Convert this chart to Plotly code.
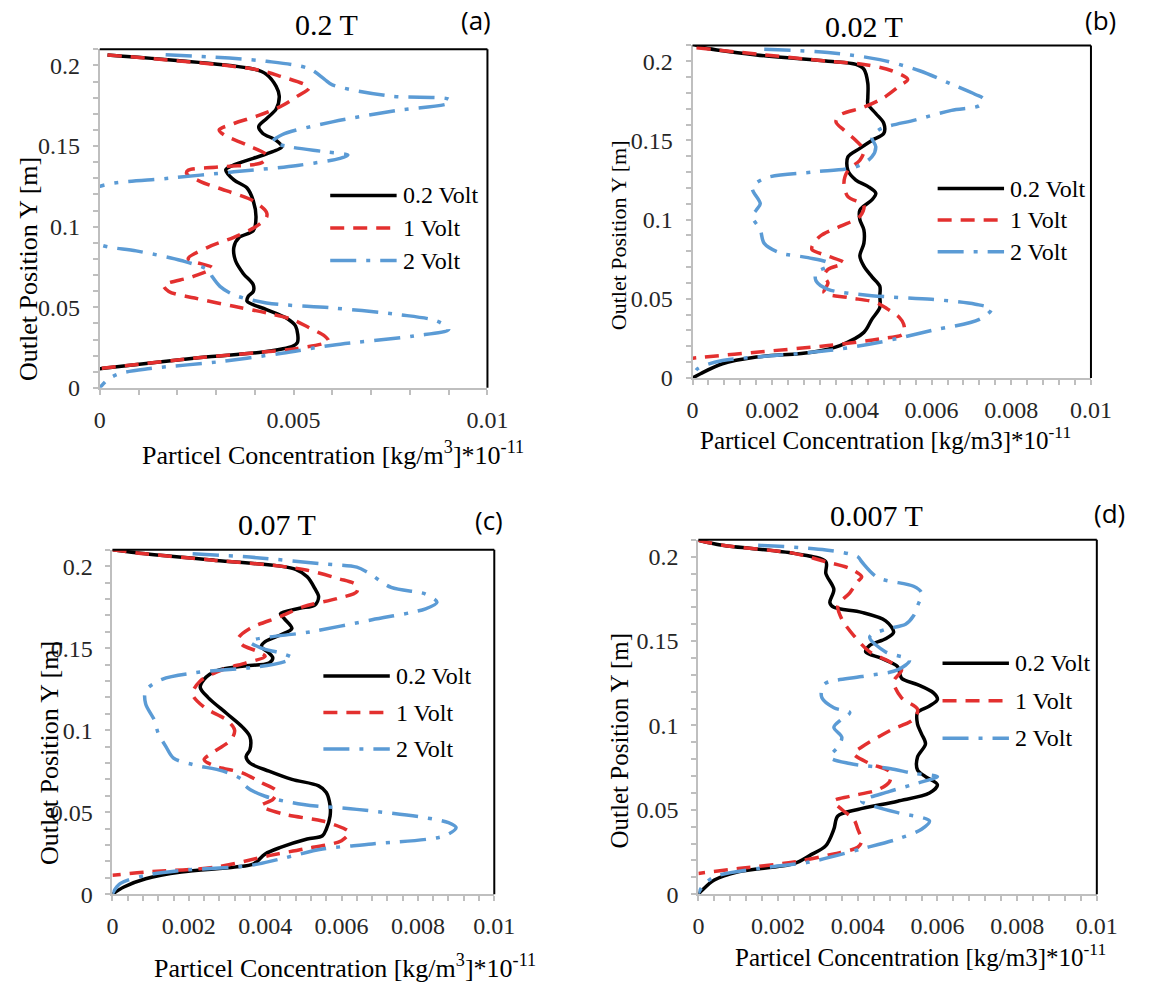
import plotly.graph_objects as go

# ---------------- data: particle concentration vs outlet position ----------------
# Panel (a) 0.2 T
a_v02_conc = [0.0002, 0.0040, 0.0043, 0.00455, 0.00463, 0.00455, 0.0043, 0.0041, 0.0042, 0.00455, 0.0047, 0.00446,
              0.00396, 0.00346, 0.00325, 0.00346, 0.0038, 0.00396, 0.00403, 0.00396, 0.0036, 0.00346, 0.0035, 0.0037,
              0.00396, 0.00396, 0.00383, 0.0038, 0.0043, 0.0048, 0.00505, 0.0051, 0.00497, 0.0042, 0.0026, 0.0001, 0.0]
a_v02_pos = [0.2065, 0.1976, 0.1945, 0.1870, 0.1810, 0.1730, 0.1670, 0.1620, 0.1580, 0.1536, 0.1496, 0.1465,
             0.1424, 0.1383, 0.1353, 0.1290, 0.1240, 0.1160, 0.1057, 0.0975, 0.0934, 0.0873, 0.0790, 0.0710,
             0.0639, 0.0598, 0.0567, 0.0537, 0.0486, 0.0435, 0.0384, 0.0282, 0.0257, 0.0222, 0.0188, 0.0122, 0.0118]
a_v1_conc = [0.0002, 0.0040, 0.0047, 0.0053, 0.0054, 0.0051, 0.0047, 0.0041, 0.00346, 0.00308, 0.0032, 0.0038,
             0.0043, 0.0042, 0.00304, 0.00228, 0.00224, 0.0026, 0.0033, 0.00396, 0.0043, 0.0043, 0.0040, 0.00346,
             0.0028, 0.00228, 0.0029, 0.0024, 0.00165, 0.00178, 0.00245, 0.00346, 0.0043, 0.00497, 0.0054, 0.0058,
             0.0059, 0.0051, 0.0041, 0.0026, 0.0]
a_v1_pos = [0.2065, 0.1976, 0.1930, 0.1880, 0.1860, 0.1810, 0.1750, 0.1690, 0.1640, 0.1600, 0.1570, 0.1506,
            0.1444, 0.1400, 0.1370, 0.1350, 0.1330, 0.1280, 0.1220, 0.1160, 0.1090, 0.1057, 0.0996, 0.0934,
            0.0873, 0.0800, 0.0745, 0.0690, 0.0635, 0.0598, 0.0557, 0.0506, 0.0465, 0.0424, 0.0373, 0.0322,
            0.0290, 0.0245, 0.0220, 0.0188, 0.0120]
a_v2_conc = [0.0017, 0.0043, 0.0054, 0.0058, 0.0060, 0.0075, 0.0090, 0.00903, 0.00765, 0.0060, 0.0047, 0.00446,
             0.00488, 0.0058, 0.0064, 0.0062, 0.0051, 0.00346, 0.00178, 0.0, -0.0004, -0.0006, -0.0004, 0.0,
             0.00094, 0.0021, 0.0028, 0.0029, 0.0031, 0.00346, 0.0043, 0.0060, 0.0077, 0.0087, 0.0090, 0.0081,
             0.0060, 0.0047, 0.0030, 0.0013, 0.0005, 0.0002, 0.0]
a_v2_pos = [0.2067, 0.2026, 0.1980, 0.1914, 0.1880, 0.1810, 0.1790, 0.1770, 0.1720, 0.1650, 0.1570, 0.1526,
            0.1496, 0.1465, 0.1444, 0.1424, 0.1380, 0.1340, 0.1300, 0.1250, 0.1180, 0.1080, 0.0980, 0.0890,
            0.0850, 0.0790, 0.0730, 0.0690, 0.0630, 0.0577, 0.0527, 0.0496, 0.0455, 0.0414, 0.0363, 0.0322,
            0.0265, 0.0215, 0.0160, 0.0120, 0.0088, 0.0050, 0.0]

# Panel (b) 0.02 T
b_v02_conc = [0.0, 0.0003, 0.0016, 0.0034, 0.0041, 0.0043, 0.0044, 0.0044, 0.0044, 0.0046, 0.0048, 0.0048, 0.0045,
              0.0042, 0.0039, 0.0039, 0.0041, 0.0044, 0.0046, 0.0045, 0.0042, 0.0042, 0.0043, 0.0043, 0.0042,
              0.0043, 0.0045, 0.0047, 0.0047, 0.0047, 0.0045, 0.0043, 0.0037, 0.0030, 0.0016, 0.00075, 0.0002, 0.0]
b_v02_pos = [0.2110, 0.2085, 0.2040, 0.2000, 0.1980, 0.1950, 0.1860, 0.1770, 0.1730, 0.1670, 0.1608, 0.1545, 0.1500,
             0.1450, 0.1396, 0.1310, 0.1250, 0.1210, 0.1166, 0.1124, 0.1060, 0.1000, 0.0936, 0.0850, 0.0770,
             0.0706, 0.0640, 0.0580, 0.0518, 0.0445, 0.0370, 0.0288, 0.0205, 0.0163, 0.0132, 0.0090, 0.0027, 0.0]
b_v1_conc = [0.0001, 0.0034, 0.0043, 0.0050, 0.0054, 0.0052, 0.0048, 0.0043, 0.0037, 0.0036, 0.0038, 0.0041, 0.0043,
             0.0042, 0.0039, 0.0038, 0.0039, 0.0043, 0.0042, 0.0037, 0.0032, 0.0030, 0.0030, 0.0034, 0.0038, 0.0034,
             0.0033, 0.0034, 0.0033, 0.0039, 0.0046, 0.0049, 0.0052, 0.0053, 0.0053, 0.0047, 0.0034, 0.0016,
             0.0002, 0.0]
b_v1_pos = [0.2085, 0.2000, 0.1980, 0.1940, 0.1885, 0.1845, 0.1770, 0.1710, 0.1660, 0.1617, 0.1565, 0.1500, 0.1437,
            0.1375, 0.1310, 0.1230, 0.1145, 0.1090, 0.1020, 0.0957, 0.0895, 0.0830, 0.0810, 0.0770, 0.0727, 0.0686,
            0.0644, 0.0600, 0.0540, 0.0508, 0.0477, 0.0435, 0.0380, 0.0340, 0.0280, 0.0247, 0.0205, 0.0163,
            0.0130, 0.0125]
b_v2_conc = [0.0018, 0.0034, 0.0047, 0.0057, 0.0065, 0.0071, 0.0073, 0.0072, 0.0065, 0.0056, 0.0047, 0.0045, 0.0046,
             0.0045, 0.0041, 0.0030, 0.0018, 0.0015, 0.0017, 0.0016, 0.0015, 0.0017, 0.0018, 0.0022, 0.0029, 0.0034,
             0.0034, 0.0031, 0.0031, 0.0034, 0.0045, 0.0060, 0.0071, 0.0075, 0.0072, 0.0060, 0.0047, 0.0034,
             0.0016, 0.00075, 0.00013, 0.0]
b_v2_pos = [0.2075, 0.2055, 0.2010, 0.1940, 0.1855, 0.1790, 0.1762, 0.1720, 0.1690, 0.1630, 0.1570, 0.1520, 0.1460,
            0.1396, 0.1333, 0.1300, 0.1260, 0.1200, 0.1100, 0.1060, 0.1020, 0.0936, 0.0850, 0.0790, 0.0760, 0.0727,
            0.0706, 0.0665, 0.0613, 0.0560, 0.0520, 0.0497, 0.0466, 0.0435, 0.0370, 0.0300, 0.0226, 0.0173,
            0.0132, 0.0110, 0.0059, 0.0006]

# Panel (c) 0.07 T
c_v02_conc = [0.0, 0.00087, 0.0027, 0.0044, 0.0048, 0.0051, 0.0053, 0.0054, 0.0053, 0.0049, 0.0044, 0.0045, 0.0047,
              0.0044, 0.0040, 0.0039, 0.0041, 0.0042, 0.0041, 0.0034, 0.0027, 0.0024, 0.0023, 0.0025, 0.0030, 0.0034,
              0.0036, 0.0036, 0.0035, 0.0036, 0.0041, 0.0047, 0.0054, 0.0056, 0.0057, 0.0057, 0.0056, 0.0055,
              0.0051, 0.0044, 0.0040, 0.0037, 0.0032, 0.0018, 0.00087, 0.0003, 0.0]
c_v02_pos = [0.2100, 0.2075, 0.2035, 0.2000, 0.1980, 0.1935, 0.1864, 0.1813, 0.1763, 0.1743, 0.1710, 0.1680, 0.1620,
             0.1580, 0.1540, 0.1510, 0.1470, 0.1440, 0.1410, 0.1390, 0.1360, 0.1310, 0.1260, 0.1200, 0.1100, 0.1020,
             0.0960, 0.0880, 0.0840, 0.0800, 0.0750, 0.0700, 0.0660, 0.0620, 0.0540, 0.0477, 0.0396, 0.0356,
             0.0336, 0.0285, 0.0245, 0.0185, 0.0165, 0.0135, 0.0094, 0.0044, 0.0]
c_v1_conc = [0.0, 0.00087, 0.0027, 0.0044, 0.0051, 0.0059, 0.0064, 0.0064, 0.0059, 0.0050, 0.0044, 0.0036, 0.0033,
             0.0034, 0.0038, 0.0040, 0.0035, 0.0029, 0.0023, 0.0021, 0.0024, 0.0030, 0.0032, 0.0031, 0.0026, 0.0024,
             0.0027, 0.0034, 0.0039, 0.0043, 0.0042, 0.0039, 0.0045, 0.0055, 0.0061, 0.0062, 0.0060, 0.0050,
             0.0041, 0.0027, 0.00087, 0.0]
c_v1_pos = [0.2100, 0.2075, 0.2035, 0.2000, 0.1975, 0.1925, 0.1884, 0.1844, 0.1803, 0.1753, 0.1693, 0.1620, 0.1560,
            0.1520, 0.1480, 0.1450, 0.1410, 0.1370, 0.1300, 0.1220, 0.1140, 0.1060, 0.1000, 0.0940, 0.0860, 0.0820,
            0.0780, 0.0740, 0.0680, 0.0627, 0.0577, 0.0540, 0.0487, 0.0446, 0.0396, 0.0376, 0.0326, 0.0275,
            0.0235, 0.0165, 0.0135, 0.0115]
c_v2_conc = [0.0021, 0.0036, 0.0055, 0.0064, 0.0067, 0.0073, 0.0082, 0.0085, 0.0082, 0.0068, 0.0052, 0.0036, 0.0039,
             0.0044, 0.0047, 0.0044, 0.0036, 0.0022, 0.0013, 0.00087, 0.00087, 0.0011, 0.0012, 0.0014, 0.0016,
             0.0021, 0.0029, 0.0034, 0.0035, 0.0040, 0.0050, 0.0064, 0.0082, 0.0088, 0.0090, 0.0087, 0.0068,
             0.0055, 0.0044, 0.0036, 0.0018, 0.00087, 0.0002, 0.0]
c_v2_pos = [0.2075, 0.2055, 0.2014, 0.1994, 0.1960, 0.1870, 0.1830, 0.1780, 0.1740, 0.1673, 0.1600, 0.1540, 0.1500,
            0.1470, 0.1440, 0.1410, 0.1381, 0.1351, 0.1310, 0.1240, 0.1160, 0.1060, 0.0980, 0.0900, 0.0830,
            0.0790, 0.0750, 0.0697, 0.0657, 0.0597, 0.0547, 0.0517, 0.0466, 0.0436, 0.0406, 0.0356, 0.0306,
            0.0275, 0.0215, 0.0175, 0.0145, 0.0115, 0.0064, 0.0004]

# Panel (d) 0.007 T
d_v02_conc = [0.0, 0.0006, 0.0024, 0.0032, 0.0032, 0.0034, 0.0033, 0.0034, 0.0041, 0.0047, 0.0049, 0.0047, 0.0043,
              0.0042, 0.0046, 0.0050, 0.0051, 0.0055, 0.0059, 0.0060, 0.0058, 0.0055, 0.0055, 0.0056, 0.0057,
              0.0055, 0.0055, 0.0057, 0.0060, 0.0058, 0.0050, 0.0040, 0.0035, 0.0034, 0.0032, 0.0028, 0.0024,
              0.0010, 0.0004, 0.0001, 0.0]
d_v02_pos = [0.2098, 0.2068, 0.2020, 0.1970, 0.1900, 0.1806, 0.1728, 0.1700, 0.1670, 0.1620, 0.1553, 0.1514, 0.1475,
             0.1436, 0.1397, 0.1349, 0.1280, 0.1242, 0.1193, 0.1154, 0.1115, 0.1076, 0.1008, 0.0950, 0.0891,
             0.0813, 0.0736, 0.0697, 0.0648, 0.0599, 0.0551, 0.0502, 0.0463, 0.0385, 0.0288, 0.0230, 0.0181,
             0.0132, 0.0084, 0.0025, 0.0]
d_v1_conc = [0.0, 0.0006, 0.0024, 0.0032, 0.0038, 0.0041, 0.0040, 0.0038, 0.0035, 0.0036, 0.0039, 0.0043, 0.0048,
             0.0051, 0.0049, 0.0051, 0.0055, 0.0054, 0.0048, 0.0041, 0.0039, 0.0043, 0.0048, 0.0048, 0.0045, 0.0038,
             0.0034, 0.0036, 0.0039, 0.0040, 0.0041, 0.0040, 0.0034, 0.0024, 0.0010, 0.0]
d_v1_pos = [0.2098, 0.2068, 0.2020, 0.1970, 0.1930, 0.1880, 0.1854, 0.1786, 0.1710, 0.1630, 0.1533, 0.1436, 0.1378,
            0.1329, 0.1260, 0.1164, 0.1096, 0.1037, 0.0969, 0.0872, 0.0833, 0.0774, 0.0726, 0.0667, 0.0619, 0.0580,
            0.0551, 0.0502, 0.0444, 0.0385, 0.0317, 0.0278, 0.0239, 0.0191, 0.0152, 0.0123]
d_v2_conc = [0.0015, 0.0032, 0.0040, 0.0041, 0.0045, 0.0054, 0.0056, 0.0055, 0.0054, 0.0052, 0.0047, 0.0043, 0.0047,
             0.0053, 0.0050, 0.0041, 0.0032, 0.0031, 0.0031, 0.0034, 0.0038, 0.0036, 0.0034, 0.0036, 0.0035, 0.0033,
             0.0038, 0.0048, 0.0054, 0.0060, 0.0055, 0.0048, 0.0041, 0.0044, 0.0050, 0.0058, 0.0056, 0.0050,
             0.0041, 0.0028, 0.0015, 0.0004, 0.0001, 0.0]
d_v2_pos = [0.2068, 0.2040, 0.2000, 0.1970, 0.1877, 0.1825, 0.1786, 0.1708, 0.1650, 0.1600, 0.1570, 0.1524, 0.1436,
            0.1387, 0.1329, 0.1290, 0.1251, 0.1220, 0.1164, 0.1105, 0.1076, 0.1037, 0.0989, 0.0930, 0.0872, 0.0813,
            0.0774, 0.0745, 0.0716, 0.0697, 0.0658, 0.0609, 0.0551, 0.0521, 0.0483, 0.0434, 0.0385, 0.0327,
            0.0269, 0.0191, 0.0152, 0.0103, 0.0045, 0.0006]

series_names = ["0.2 Volt", "1 Volt", "2 Volt"]
panel_titles = ["0.2 T", "0.02 T", "0.07 T", "0.007 T"]
panel_tags = ["(a)", "(b)", "(c)", "(d)"]
x_titles = ["Particel Concentration [kg/m<sup>3</sup>]*10<sup>-11</sup>",
            "Particel Concentration [kg/m3]*10<sup>-11</sup>",
            "Particel Concentration [kg/m<sup>3</sup>]*10<sup>-11</sup>",
            "Particel Concentration [kg/m3]*10<sup>-11</sup>"]
y_title = "Outlet Position Y [m]"

panels = [
    [(a_v02_conc, a_v02_pos), (a_v1_conc, a_v1_pos), (a_v2_conc, a_v2_pos)],
    [(b_v02_conc, b_v02_pos), (b_v1_conc, b_v1_pos), (b_v2_conc, b_v2_pos)],
    [(c_v02_conc, c_v02_pos), (c_v1_conc, c_v1_pos), (c_v2_conc, c_v2_pos)],
    [(d_v02_conc, d_v02_pos), (d_v1_conc, d_v1_pos), (d_v2_conc, d_v2_pos)],
]

# ---------------- styling / layout ----------------
W, H = 1152, 996
SERIF = "Liberation Serif"
TICK_FONT = dict(family=SERIF, size=24, color="#262626")
styles = [
    dict(color="#000000", width=3.5, dash="solid"),
    dict(color="#e3302f", width=3.5, dash="14px,9px"),
    dict(color="#5b9bd5", width=3.5, dash="26px,10px,4px,10px"),
]
# plot frames in pixels: left, right, top, bottom
frames = [(96, 493, 50, 393), (703, 1111, 46, 383), (109, 500, 557, 906), (709, 1117, 547, 906)]
x_major = [0.005, 0.002, 0.002, 0.002]
x_minor = [0.001, 0.0004, 0.0004, 0.0004]
title_pos = [(328, 25), (879, 27), (278, 531), (891, 522)]
tag_pos = [(481, 20), (1121, 20), (495, 527), (1130, 520)]
xtitle_pos = [(335, 460), (901, 444), (347, 979), (936, 968)]
ytitle_pos = [(23, 272), (628, 238), (44, 763), (628, 750)]
ytitle_size = [26, 22, 26, 25]
xtitle_size = [26, 25, 26, 25]
legend_pos = [(332, 198, 33), (954, 191, 32), (325, 685, 37), (959, 672, 38)]  # line start x, first row y, row step


def px(x):
    return x / W


def py(y):
    return 1 - y / H


fig = go.Figure()
shapes = []
annotations = []

for i, curves in enumerate(panels):
    n = "" if i == 0 else str(i + 1)
    xa, ya = "x" + n, "y" + n
    for (conc, pos), name, st in zip(curves, series_names, styles):
        fig.add_trace(go.Scatter(
            x=conc, y=pos, mode="lines", name=name, showlegend=False,
            line=dict(color=st["color"], width=st["width"], dash=st["dash"], shape="spline", smoothing=0.9),
            xaxis=xa, yaxis=ya, hoverinfo="skip"))

    l, r, t, b = frames[i]
    minor_x = dict(dtick=x_minor[i], ticks="outside", ticklen=5, tickcolor="#bfbfbf", tickwidth=1.5)
    minor_y = dict(dtick=0.01, ticks="outside", ticklen=5, tickcolor="#bfbfbf", tickwidth=1.5)
    xaxis = go.layout.XAxis(
        domain=[px(l), px(r)], range=[0, 0.01], dtick=x_major[i], tick0=0, anchor=ya,
        showgrid=False, zeroline=False, showline=True, linecolor="#bfbfbf", linewidth=2,
        ticks="outside", ticklen=5, tickwidth=1.5, tickcolor="#bfbfbf",
        tickfont=TICK_FONT, ticklabelstandoff=4, minor=minor_x)
    yaxis = go.layout.YAxis(
        domain=[py(b), py(t)], range=[0, 0.21], dtick=0.05, tick0=0, anchor=xa,
        showgrid=False, zeroline=False, showline=True, linecolor="#bfbfbf", linewidth=2,
        ticks="outside", ticklen=5, tickwidth=1.5, tickcolor="#bfbfbf",
        tickfont=TICK_FONT, ticklabelstandoff=8, minor=minor_y)
    fig.layout["xaxis" + n] = xaxis
    fig.layout["yaxis" + n] = yaxis

    # black frame on top and right edges of the plot area
    shapes.append(dict(type="line", xref=xa + " domain", yref=ya + " domain", x0=0, x1=1, y0=1, y1=1,
                       line=dict(color="#000000", width=2)))
    shapes.append(dict(type="line", xref=xa + " domain", yref=ya + " domain", x0=1, x1=1, y0=0, y1=1,
                       line=dict(color="#000000", width=2)))

    tx, ty = title_pos[i]
    annotations.append(dict(text=panel_titles[i], x=px(tx), y=py(ty), xref="paper", yref="paper",
                            showarrow=False, xanchor="center", yanchor="middle",
                            font=dict(family=SERIF, size=30, color="#000000")))
    gx, gy = tag_pos[i]
    annotations.append(dict(text=panel_tags[i], x=px(gx), y=py(gy), xref="paper", yref="paper",
                            showarrow=False, xanchor="center", yanchor="middle",
                            font=dict(family="Open Sans", size=26, color="#000000")))
    qx, qy = xtitle_pos[i]
    annotations.append(dict(text=x_titles[i], x=px(qx), y=py(qy), xref="paper", yref="paper",
                            showarrow=False, xanchor="center", yanchor="middle",
                            font=dict(family=SERIF, size=xtitle_size[i], color="#000000")))
    sx, sy = ytitle_pos[i]
    annotations.append(dict(text=y_title, x=px(sx), y=py(sy), xref="paper", yref="paper",
                            showarrow=False, xanchor="center", yanchor="middle", textangle=-90,
                            font=dict(family=SERIF, size=ytitle_size[i], color="#000000")))

    # legend block: line sample followed by series name
    lx, ly, step = legend_pos[i]
    for k, (name, st) in enumerate(zip(series_names, styles)):
        yy = ly + k * step
        shapes.append(dict(type="line", xref="paper", yref="paper", x0=px(lx), x1=px(lx + 68),
                           y0=py(yy), y1=py(yy),
                           line=dict(color=st["color"], width=3.5, dash=st["dash"])))
        annotations.append(dict(text=name, x=px(lx + 72), y=py(yy), xref="paper", yref="paper",
                                showarrow=False, xanchor="left", yanchor="middle",
                                font=dict(family=SERIF, size=24, color="#000000")))

fig.update_layout(
    width=W, height=H, margin=dict(l=0, r=0, t=0, b=0),
    font=dict(family=SERIF, size=24, color="#262626"),
    paper_bgcolor="#ffffff", plot_bgcolor="#ffffff",
    showlegend=False, shapes=shapes, annotations=annotations,
)

fig.write_html("out.html")
